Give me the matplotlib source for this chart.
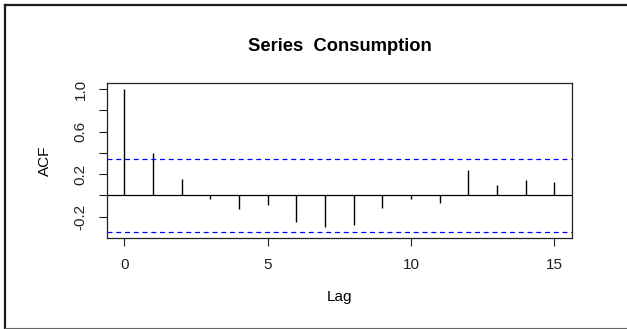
"""
ACF plot for the Consumption series (R style)
"""
import matplotlib
matplotlib.use("Agg")
import matplotlib.pyplot as plt
from matplotlib.lines import Line2D

plt.rcParams['font.family'] = ['Liberation Sans', 'DejaVu Sans']

# Data
lags = list(range(16))
acf_vals = [1.0, 0.395, 0.153, -0.038, -0.129, -0.091, -0.248, -0.295,
            -0.282, -0.119, -0.032, -0.069, 0.235, 0.097, 0.147, 0.122]
conf = 0.346  # approx 1.96/sqrt(n)

x_ticks = [0, 5, 10, 15]
y_ticks = [-0.2, 0.0, 0.2, 0.4, 0.6, 0.8, 1.0]
y_ticklabels = ['-0.2', '', '0.2', '', '0.6', '', '1.0']

W, H = 627, 329
fig = plt.figure(figsize=(W / 100, H / 100), dpi=100)
fig.patch.set_facecolor('white')

# axes box in pixels: left 107, right 571.7, top 82.7, bottom 238.3
ax = fig.add_axes([107 / W, (H - 238.3) / H, (571.7 - 107) / W, (238.3 - 82.7) / H])

ax.vlines(lags, 0, acf_vals, colors='black', lw=1.0)
ax.axhline(0, color='black', lw=0.9)
ax.axhline(conf, color='blue', lw=0.9, ls=(0, (4, 3)))
ax.axhline(-conf, color='blue', lw=0.9, ls=(0, (4, 3)))

ax.set_xlim(-0.6, 15.6)
ax.set_ylim(-0.404, 1.059)
ax.set_xticks(x_ticks)
ax.set_xticklabels([str(t) for t in x_ticks])
ax.set_yticks(y_ticks)
ax.set_yticklabels(y_ticklabels, rotation=90, va='center')
ax.tick_params(length=6, width=0.8, pad=8, labelsize=11, colors='#222222')

for s in ax.spines.values():
    s.set_linewidth(0.9)
    s.set_color('#222222')

fig.text(339.4 / W, (H - 50.7) / H, 'Series  Consumption', ha='center', va='baseline',
         fontsize=13.2, fontweight='bold')
fig.text(339 / W, (H - 297) / H, 'Lag', ha='center', va='center', fontsize=11)
fig.text(45 / W, (H - 160.5) / H, 'ACF', ha='center', va='center', rotation=90, fontsize=11)

# outer frame (top, left, bottom)
fig.add_artist(Line2D([5 / W, 1], [(H - 5) / H, (H - 5) / H], transform=fig.transFigure,
                      color='#1a1a1a', lw=1.6))
fig.add_artist(Line2D([5 / W, 5 / W], [(H - 5) / H, 0.5 / H], transform=fig.transFigure,
                      color='#1a1a1a', lw=1.6))
fig.add_artist(Line2D([5 / W, 1], [1.2 / H, 1.2 / H], transform=fig.transFigure,
                      color='#666666', lw=0.8))

fig.savefig('out.png', dpi=100)
